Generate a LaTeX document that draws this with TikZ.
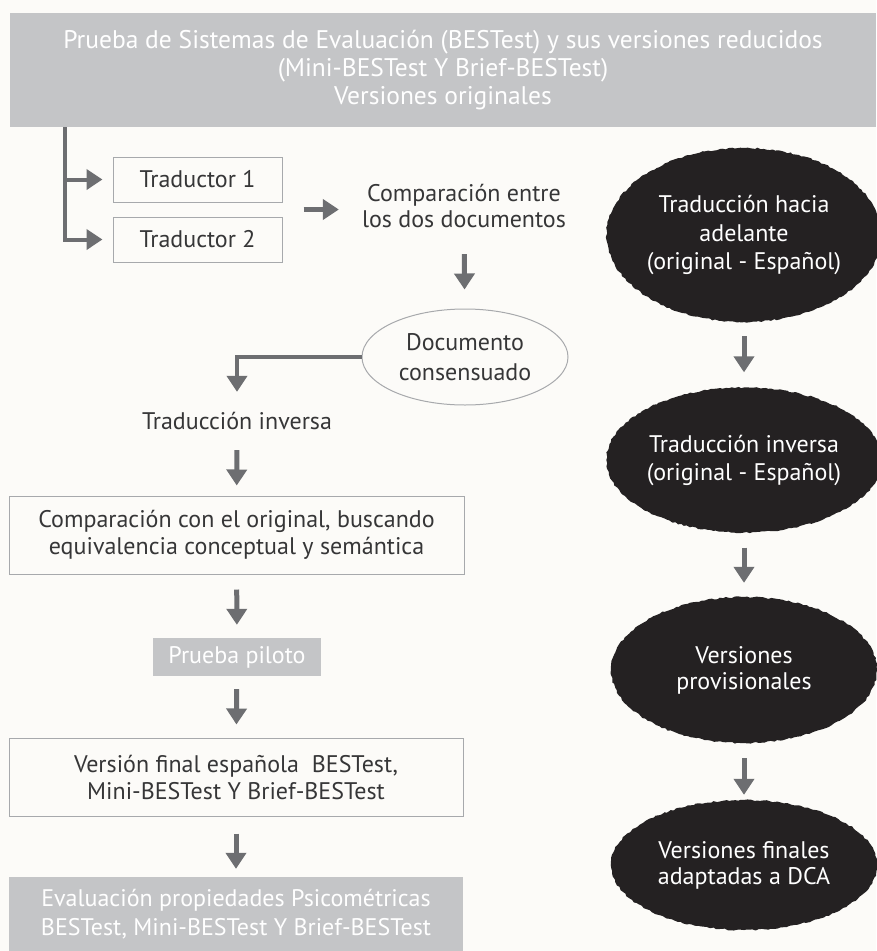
\documentclass[tikz,border=0pt]{standalone}
\usepackage{fontspec}
\setmainfont{PT Sans}
\usetikzlibrary{arrows.meta, shapes.geometric, decorations.pathmorphing, calc}

\definecolor{pagebg}{HTML}{FCFBF8}
\definecolor{bargray}{HTML}{C4C5C7}
\definecolor{arrgray}{HTML}{6D6E71}
\definecolor{linegray}{HTML}{A7A9AC}
\definecolor{inkgray}{HTML}{363637}
\definecolor{inkblack}{HTML}{242122}

\begin{document}
\begin{tikzpicture}[x=1pt, y=-1pt,
    every node/.style={font=\fontsize{24}{27}\selectfont, text=inkgray, inner sep=0pt, align=center},
    box/.style={draw=linegray, line width=1pt},
    graybox/.style={fill=bargray, text=white},
    blob/.style={ellipse, fill=inkblack, text=white, minimum width=266pt,
        decorate, decoration={random steps, segment length=3pt, amplitude=0.8pt}},
    arr/.style={draw=arrgray, line width=5pt, -{Triangle[width=20pt, length=16pt]}},
    ]
    % Page
    \useasboundingbox (0,0) rectangle (876,951);
    \fill[pagebg] (0,0) rectangle (876,951);

    % Header bar
    \node[graybox, minimum width=866pt, minimum height=114pt,
        font=\fontsize{25.5}{28}\selectfont] (hdr) at (443,70)
        {Prueba de Sistemas de Evaluación (BESTest) y sus versiones reducidos\\
         (Mini-BESTest Y Brief-BESTest)\\Versiones originales};
    \coordinate (trunk) at ([xshift=55pt]hdr.south west);

    % Left column
    \node[box, minimum width=169pt, minimum height=45pt] (trad1) at (197.5,179.5) {Traductor 1};
    \node[box, minimum width=169pt, minimum height=45pt] (trad2) at (197.5,239.5) {Traductor 2};
    \node[minimum width=230pt, minimum height=60pt, font=\fontsize{24}{26}\selectfont] (cmp) at (464,206)
        {Comparación entre\\los dos documentos};
    \node[ellipse, draw=linegray, line width=1pt, minimum width=206pt, minimum height=96pt,
        font=\fontsize{24}{30}\selectfont] (doc) at (465,357) {Documento\\consensuado};
    \node[minimum height=30pt] (tinv) at (237,421) {Traducción inversa};
    \node[box, minimum width=455pt, minimum height=78pt] (cmpo) at (236.5,535)
        {Comparación con el original, buscando\\equivalencia conceptual y semántica};
    \node[graybox, minimum width=168pt, minimum height=38pt] (pil) at (237,657) {Prueba piloto};
    \node[box, minimum width=454pt, minimum height=78pt] (vfin) at (236,777)
        {Versión final española\ \ BESTest,\\Mini-BESTest Y Brief-BESTest};
    \node[graybox, minimum width=454pt, minimum height=74pt, font=\fontsize{24}{29}\selectfont]
        (eval) at (236,914)
        {Evaluación propiedades Psicométricas\\BESTest, Mini-BESTest Y Brief-BESTest};

    % Right column
    \node[blob, minimum height=174pt, font=\fontsize{24}{28.5}\selectfont] (fwd) at (744,235)
        {Traducción hacia\\adelante\\(original - Español)};
    \node[blob, minimum height=145pt, font=\fontsize{24}{28}\selectfont] (bwd) at (744,460)
        {Traducción inversa\\(original - Español)};
    \node[blob, minimum height=146pt, font=\fontsize{24}{26}\selectfont] (prov) at (744,670)
        {Versiones\\provisionales};
    \node[blob, minimum height=130pt, font=\fontsize{24}{26}\selectfont] (fin) at (744,865)
        {Versiones finales\\adaptadas a DCA};

    % Arrows, left column
    \draw[arr, line width=4pt, shorten >=10pt] (trunk) |- (trad1.west);
    \draw[arr, line width=4pt, shorten >=10pt] (trunk) |- (trad2.west);
    \draw[arr, shorten <=21pt, shorten >=10pt] ($(trad1.east)!.5!(trad2.east)$) -- (cmp.west |- {$(trad1.east)!.5!(trad2.east)$});
    \draw[arr, shorten <=18pt, shorten >=19pt] (cmp) -- (doc);
    \draw[arr, line width=4pt, shorten >=14pt] (doc.west) -| (tinv.north);
    \draw[arr, shorten <=14pt, shorten >=10pt] (tinv) -- (cmpo);
    \draw[arr, shorten <=15pt, shorten >=13pt] (cmpo) -- (pil);
    \draw[arr, shorten <=13pt, shorten >=13pt] (pil) -- (vfin);
    \draw[arr, shorten <=17pt, shorten >=8pt] (vfin) -- (eval);

    % Arrows, right column
    \draw[arr, shorten <=14pt, shorten >=15pt] (fwd) -- (bwd);
    \draw[arr, shorten <=15pt, shorten >=14pt] (bwd) -- (prov);
    \draw[arr, shorten <=15pt, shorten >=5pt] (prov) -- (fin);
\end{tikzpicture}
\end{document}
